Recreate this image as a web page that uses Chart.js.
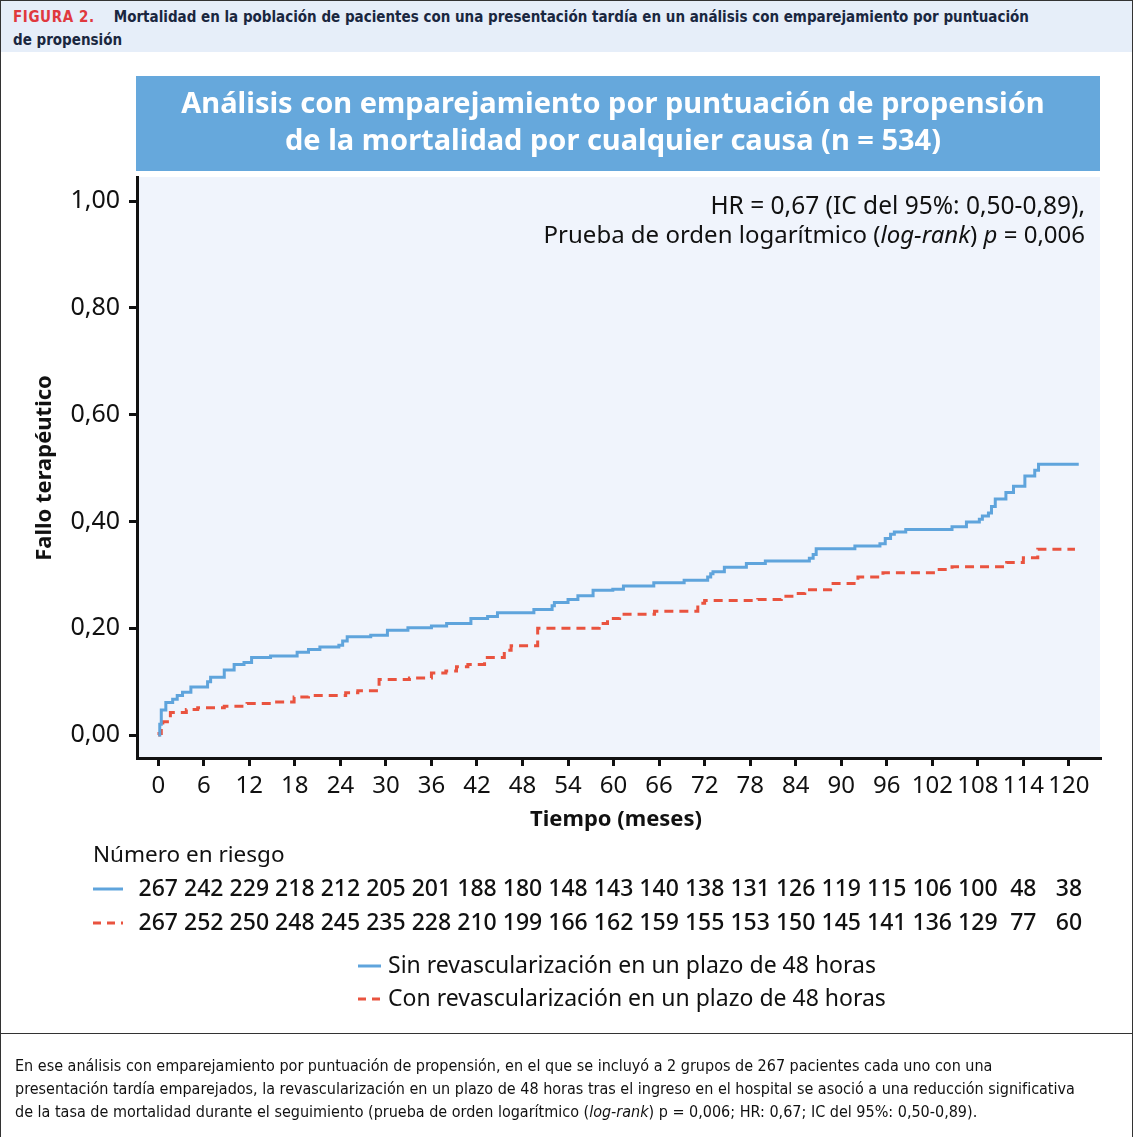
<!DOCTYPE html>
<html lang="es">
<head>
<meta charset="utf-8">
<title>Figura 2</title>
<script src="https://cdn.jsdelivr.net/npm/chart.js@4.4.1/dist/chart.umd.min.js"></script>
<style>
  html, body { margin: 0; padding: 0; background: #fff; }
  #fig { position: relative; width: 1133px; height: 1137px; box-sizing: border-box; overflow: hidden; }
  #header {
    position: absolute; left: 0; top: 0; width: 1133px; height: 52px; box-sizing: border-box;
    background: #e6eef9; border: 1px solid #333; border-bottom: none;
    font-family: "Liberation Sans Narrow", "DejaVu Sans Condensed", sans-serif;
    font-weight: bold; font-size: 15px; line-height: 23px; color: #1a2740;
    padding: 5px 0 0 12px;
  }
  #header .tag { color: #e0393e; letter-spacing: 0.6px; margin-right: 19px; }
  #header .inner { width: 1030px; }
  #wrap { position: absolute; left: 0; top: 0; width: 1133px; height: 1033px; }
  #frame { position: absolute; left: 0; top: 52px; width: 1133px; height: 1085px; box-sizing: border-box;
    border-left: 1px solid #333; border-right: 1px solid #333; pointer-events: none; }
  #sep { position: absolute; left: 0; top: 1033px; width: 1133px; border-top: 1px solid #333; }
  #caption {
    position: absolute; left: 15px; top: 1054px; width: 1118px; white-space: nowrap;
    font-family: "Liberation Sans Narrow", "DejaVu Sans Condensed", sans-serif;
    font-size: 16px; line-height: 23px; color: #111;
  }
</style>
</head>
<body>
<div id="fig">
  <div id="wrap"><canvas id="km" width="1133" height="1033"></canvas></div>
  <div id="header"><div class="inner"><span class="tag">FIGURA 2.</span>Mortalidad en la población de pacientes con una presentación tardía en un análisis con emparejamiento por puntuación de propensión</div></div>
  <div id="frame"></div>
  <div id="sep"></div>
  <div id="caption">En ese análisis con emparejamiento por puntuación de propensión, en el que se incluyó a 2 grupos de 267 pacientes cada uno con una<br>presentación tardía emparejados, la revascularización en un plazo de 48 horas tras el ingreso en el hospital se asoció a una reducción significativa<br>de la tasa de mortalidad durante el seguimiento (prueba de orden logarítmico (<i>log-rank</i>) p = 0,006; HR: 0,67; IC del 95%: 0,50-0,89).</div>
</div>

<script>
// Datos
const seriesNames = [
    'Sin revascularización en un plazo de 48 horas',
    'Con revascularización en un plazo de 48 horas'
];

// Meses y fallo acumulado - grupo sin revascularización (azul)
const sinTime = [0, 0.2, 0.4, 1.0, 1.9, 2.5, 3.2, 4.3, 6.5, 6.9, 8.7, 10.0, 11.3, 12.3, 14.8, 18.3, 19.8, 21.3, 23.8, 24.3, 24.9,
    28.0, 30.2, 32.9, 36.0, 38.0, 41.2, 43.4, 44.7, 49.5, 51.9, 52.2, 54.0, 55.3, 57.3, 59.9, 61.3, 65.3, 69.3, 72.4,
    72.8, 73.1, 74.6, 77.5, 80.0, 85.8, 86.3, 86.7, 91.8, 95.1, 95.8, 96.5, 97.0, 98.5, 104.6, 106.5, 108.2, 108.6,
    109.4, 109.8, 110.3, 111.7, 112.7, 114.2, 115.5, 116.0, 121.3];
const sinFail = [0, 0.020, 0.047, 0.061, 0.067, 0.074, 0.080, 0.090, 0.100, 0.108, 0.122, 0.132, 0.136, 0.145, 0.148, 0.155, 0.160, 0.165, 0.168, 0.176, 0.184,
    0.187, 0.196, 0.201, 0.204, 0.209, 0.218, 0.222, 0.229, 0.235, 0.242, 0.248, 0.254, 0.261, 0.271, 0.273, 0.279, 0.285, 0.290, 0.296,
    0.302, 0.306, 0.314, 0.321, 0.326, 0.331, 0.338, 0.349, 0.354, 0.358, 0.368, 0.376, 0.380, 0.385, 0.390, 0.399, 0.404, 0.410,
    0.416, 0.428, 0.442, 0.454, 0.466, 0.485, 0.496, 0.507, 0.507];

// Grupo con revascularización (rojo)
const conTime = [0, 0.1, 0.4, 0.6, 1.6, 3.7, 5.2, 8.7, 11.7, 15.3, 17.9, 19.8, 24.7, 26.3, 29.1, 33.1, 36.0, 37.9, 39.3, 40.8,
    43.0, 45.6, 46.5, 50.0, 58.1, 59.2, 60.8, 65.4, 71.1, 72.0, 79.0, 82.1, 84.1, 85.2, 88.6, 92.2, 95.5, 102.6, 104.6,
    111.8, 114.0, 115.9, 120.8];
const conFail = [0, 0.003, 0.012, 0.025, 0.042, 0.048, 0.051, 0.054, 0.059, 0.062, 0.071, 0.074, 0.079, 0.083, 0.104, 0.107, 0.116, 0.120, 0.128, 0.132,
    0.145, 0.159, 0.167, 0.200, 0.209, 0.218, 0.226, 0.232, 0.247, 0.252, 0.254, 0.260, 0.265, 0.272, 0.284, 0.296, 0.304, 0.310, 0.315,
    0.323, 0.332, 0.348, 0.348];

// Ejes y número en riesgo
const timeTicks = [0, 6, 12, 18, 24, 30, 36, 42, 48, 54, 60, 66, 72, 78, 84, 90, 96, 102, 108, 114, 120];
const failTicks = [0, 0.2, 0.4, 0.6, 0.8, 1.0];
const riskSin = [267, 242, 229, 218, 212, 205, 201, 188, 180, 148, 143, 140, 138, 131, 126, 119, 115, 106, 100, 48, 38];
const riskCon = [267, 252, 250, 248, 245, 235, 228, 210, 199, 166, 162, 159, 155, 153, 150, 145, 141, 136, 129, 77, 60];

const BLUE = '#5fa4dc';
const RED = '#e9533f';
const FONT = '"Noto Sans", "Open Sans", sans-serif';
const DASH = [9, 6];

function toPoints(xs, ys) {
    return xs.map((x, i) => ({ x: x, y: ys[i] }));
}

// Dibuja trozos de texto (normal / cursiva) alineados a la derecha
function drawRunsRight(ctx, runs, right, y, size) {
    const fonts = runs.map(r => (r.italic ? 'italic ' : '') + size + 'px ' + FONT);
    let total = 0;
    runs.forEach((r, i) => { ctx.font = fonts[i]; total += ctx.measureText(r.text).width; });
    let x = right - total;
    ctx.textAlign = 'left';
    runs.forEach((r, i) => {
        ctx.font = fonts[i];
        ctx.fillText(r.text, x, y);
        x += ctx.measureText(r.text).width;
    });
}

function legendLine(ctx, x1, x2, y, color, dashed) {
    ctx.save();
    ctx.strokeStyle = color;
    ctx.lineWidth = 3;
    ctx.setLineDash(dashed ? [8, 6] : []);
    ctx.beginPath();
    ctx.moveTo(x1, y);
    ctx.lineTo(x2, y);
    ctx.stroke();
    ctx.restore();
}

const decorPlugin = {
    id: 'decor',
    beforeDraw(chart) {
        const { ctx, chartArea: a } = chart;
        ctx.save();
        // fondo del área del gráfico
        ctx.fillStyle = '#f0f4fc';
        ctx.fillRect(a.left, a.top, a.right - a.left, a.bottom - a.top);
        // banda del título
        ctx.fillStyle = '#66a8dc';
        ctx.fillRect(136, 76, 964, 95);
        ctx.fillStyle = '#ffffff';
        ctx.textAlign = 'center';
        ctx.textBaseline = 'middle';
        ctx.font = 'bold 29px ' + FONT;
        ctx.fillText('Análisis con emparejamiento por puntuación de propensión', 613, 105);
        ctx.fillText('de la mortalidad por cualquier causa (n = 534)', 613, 142);
        ctx.restore();
    },
    afterDraw(chart) {
        const { ctx } = chart;
        const xs = chart.scales.x;
        ctx.save();
        ctx.fillStyle = '#111';
        ctx.textBaseline = 'middle';

        // anotación HR / log-rank
        drawRunsRight(ctx, [{ text: 'HR = 0,67 (IC del 95%: 0,50-0,89),' }], 1085, 207, 24.5);
        drawRunsRight(ctx, [
            { text: 'Prueba de orden logarítmico (' },
            { text: 'log-rank', italic: true },
            { text: ') ' },
            { text: 'p', italic: true },
            { text: ' = 0,006' }
        ], 1085, 236, 24);

        // títulos de los ejes
        ctx.font = 'bold 22px ' + FONT;
        ctx.textAlign = 'center';
        ctx.fillText('Tiempo (meses)', 616, 820);
        ctx.save();
        ctx.translate(45, 468);
        ctx.rotate(-Math.PI / 2);
        ctx.fillText('Fallo terapéutico', 0, 0);
        ctx.restore();

        // número en riesgo
        ctx.textAlign = 'left';
        ctx.font = '22.5px ' + FONT;
        ctx.fillText('Número en riesgo', 93, 856);
        legendLine(ctx, 93, 123, 889, BLUE, false);
        legendLine(ctx, 93, 123, 923, RED, true);
        ctx.textAlign = 'center';
        ctx.font = '500 23px ' + FONT;
        timeTicks.forEach((t, i) => {
            const px = xs.getPixelForValue(t);
            ctx.fillText(String(riskSin[i]), px, 889);
            ctx.fillText(String(riskCon[i]), px, 923);
        });

        // leyenda
        ctx.textAlign = 'left';
        ctx.font = '23px ' + FONT;
        legendLine(ctx, 358, 381, 966, BLUE, false);
        ctx.fillText(chart.data.datasets[0].label, 388, 966);
        legendLine(ctx, 358, 381, 999, RED, true);
        ctx.fillText(chart.data.datasets[1].label, 388, 999);
        ctx.restore();
    }
};

document.addEventListener('DOMContentLoaded', function() {
    const ctx = document.getElementById('km').getContext('2d');

    new Chart(ctx, {
        type: 'line',
        data: {
            datasets: [{
                label: seriesNames[0],
                data: toPoints(sinTime, sinFail),
                borderColor: BLUE,
                borderWidth: 3,
                stepped: 'before',
                pointRadius: 0,
                fill: false
            }, {
                label: seriesNames[1],
                data: toPoints(conTime, conFail),
                borderColor: RED,
                borderWidth: 3,
                borderDash: DASH,
                stepped: 'before',
                pointRadius: 0,
                fill: false
            }]
        },
        options: {
            responsive: false,
            animation: false,
            layout: { padding: { left: 0, top: 177, right: 33, bottom: 225 } },
            plugins: {
                legend: { display: false },
                tooltip: { enabled: false }
            },
            scales: {
                x: {
                    type: 'linear',
                    min: -2.8,
                    max: 124.1,
                    afterBuildTicks: scale => { scale.ticks = timeTicks.map(v => ({ value: v })); },
                    afterFit: scale => { scale.height = 50; },
                    ticks: {
                        autoSkip: false,
                        maxRotation: 0,
                        padding: 6,
                        color: '#111',
                        font: { family: FONT, size: 24 }
                    },
                    grid: { drawOnChartArea: false, drawTicks: true, tickLength: 8, color: '#111', lineWidth: 3 },
                    border: { color: '#111', width: 3 }
                },
                y: {
                    min: -0.043,
                    max: 1.045,
                    afterBuildTicks: scale => { scale.ticks = failTicks.map(v => ({ value: v })); },
                    afterFit: scale => { scale.width = 137; },
                    ticks: {
                        padding: 9,
                        color: '#111',
                        font: { family: FONT, size: 25 },
                        callback: v => v.toFixed(2).replace('.', ',')
                    },
                    grid: { drawOnChartArea: false, drawTicks: true, tickLength: 8, color: '#111', lineWidth: 3 },
                    border: { color: '#111', width: 3 }
                }
            }
        },
        plugins: [decorPlugin]
    });
});
</script>
</body>
</html>
